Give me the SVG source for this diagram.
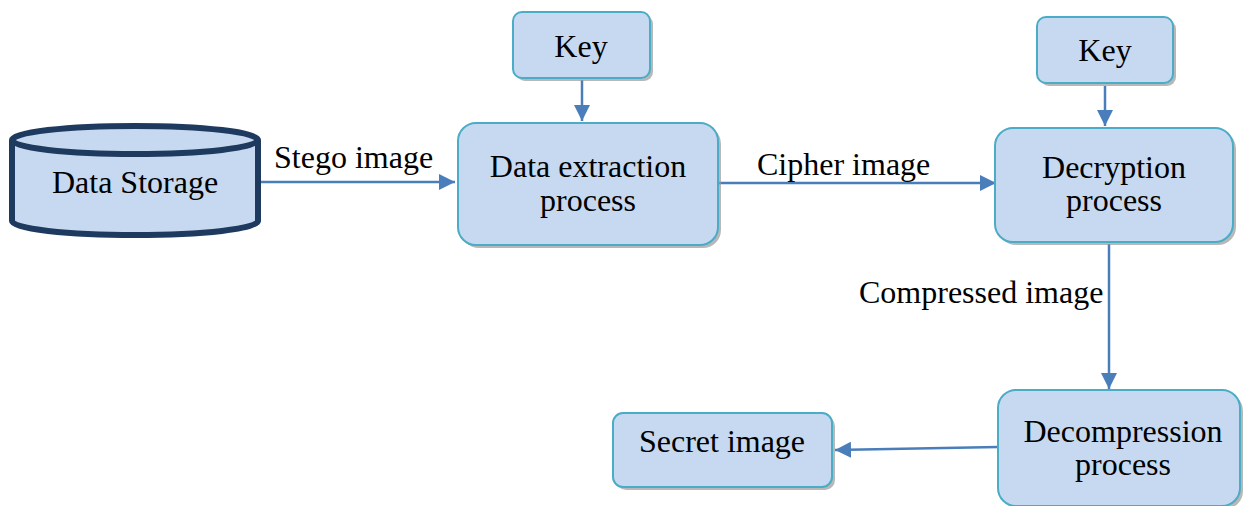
<svg xmlns="http://www.w3.org/2000/svg" width="1246" height="506" viewBox="0 0 1246 506">
<style>
.box{fill:#C6D9F1;stroke:#4BACC6;stroke-width:2}
.sh{fill:#9a9a9a;opacity:0.7}
.t{font-family:"Liberation Serif","Times New Roman",serif;font-size:32px;fill:#000;text-anchor:middle}
.lbl{font-family:"Liberation Serif","Times New Roman",serif;font-size:32px;fill:#000}
.c{fill:none;stroke:#4A7EBB;stroke-width:2.5}
</style>
<defs>
<marker id="ah" viewBox="0 0 10 10" refX="10" refY="5" markerWidth="16" markerHeight="16" markerUnits="userSpaceOnUse" orient="auto">
<path d="M0,0 L10,5 L0,10 Z" fill="#4A7EBB"/>
</marker>
</defs>
<rect width="1246" height="506" fill="#fff"/>
<g id="connectors">
<line class="c" x1="261" y1="182" x2="455" y2="182" marker-end="url(#ah)"/>
<line class="c" x1="719" y1="183" x2="996" y2="183" marker-end="url(#ah)"/>
<line class="c" x1="582" y1="80" x2="582" y2="121" marker-end="url(#ah)"/>
<line class="c" x1="1105" y1="86" x2="1105" y2="126" marker-end="url(#ah)"/>
<line class="c" x1="1109" y1="244" x2="1109" y2="389" marker-end="url(#ah)"/>
<line class="c" x1="998" y1="447" x2="835" y2="450" marker-end="url(#ah)"/>
<text class="lbl" x="274" y="168">Stego image</text>
<text class="lbl" x="757" y="175">Cipher image</text>
<text class="lbl" x="859" y="303">Compressed image</text>
</g>
<g id="storage">
<path d="M12,140 L12,221 A123,14 0 0 0 258,221 L258,140" fill="#C6D9F1" stroke="#1F3A5F" stroke-width="6"/>
<ellipse cx="135" cy="140" rx="123" ry="14" fill="#C6D9F1" stroke="#1F3A5F" stroke-width="6"/>
<text class="t" x="135" y="193">Data Storage</text>
</g>
<g id="key1">
<rect class="sh" x="516" y="15" width="137" height="66" rx="9"/>
<rect class="box" x="513" y="12" width="137" height="66" rx="9"/>
<text class="t" x="581" y="57">Key</text>
</g>
<g id="extraction">
<rect class="sh" x="461" y="126" width="260" height="122" rx="18"/>
<rect class="box" x="458" y="123" width="260" height="122" rx="18"/>
<text class="t" x="588" y="177">Data extraction</text>
<text class="t" x="588" y="211">process</text>
</g>
<g id="key2">
<rect class="sh" x="1040" y="20" width="136" height="66" rx="9"/>
<rect class="box" x="1037" y="17" width="136" height="66" rx="9"/>
<text class="t" x="1105" y="61">Key</text>
</g>
<g id="decryption">
<rect class="sh" x="998" y="131" width="238" height="114" rx="18"/>
<rect class="box" x="995" y="128" width="238" height="114" rx="18"/>
<text class="t" x="1114" y="178">Decryption</text>
<text class="t" x="1114" y="211">process</text>
</g>
<g id="decompression">
<rect class="sh" x="1001" y="393" width="242" height="116" rx="18"/>
<rect class="box" x="998" y="390" width="242" height="116" rx="18"/>
<text class="t" x="1123" y="442">Decompression</text>
<text class="t" x="1123" y="475">process</text>
</g>
<g id="secret">
<rect class="sh" x="616" y="416" width="219" height="74" rx="10"/>
<rect class="box" x="613" y="413" width="219" height="74" rx="10"/>
<text class="t" x="722" y="452">Secret image</text>
</g>
</svg>
